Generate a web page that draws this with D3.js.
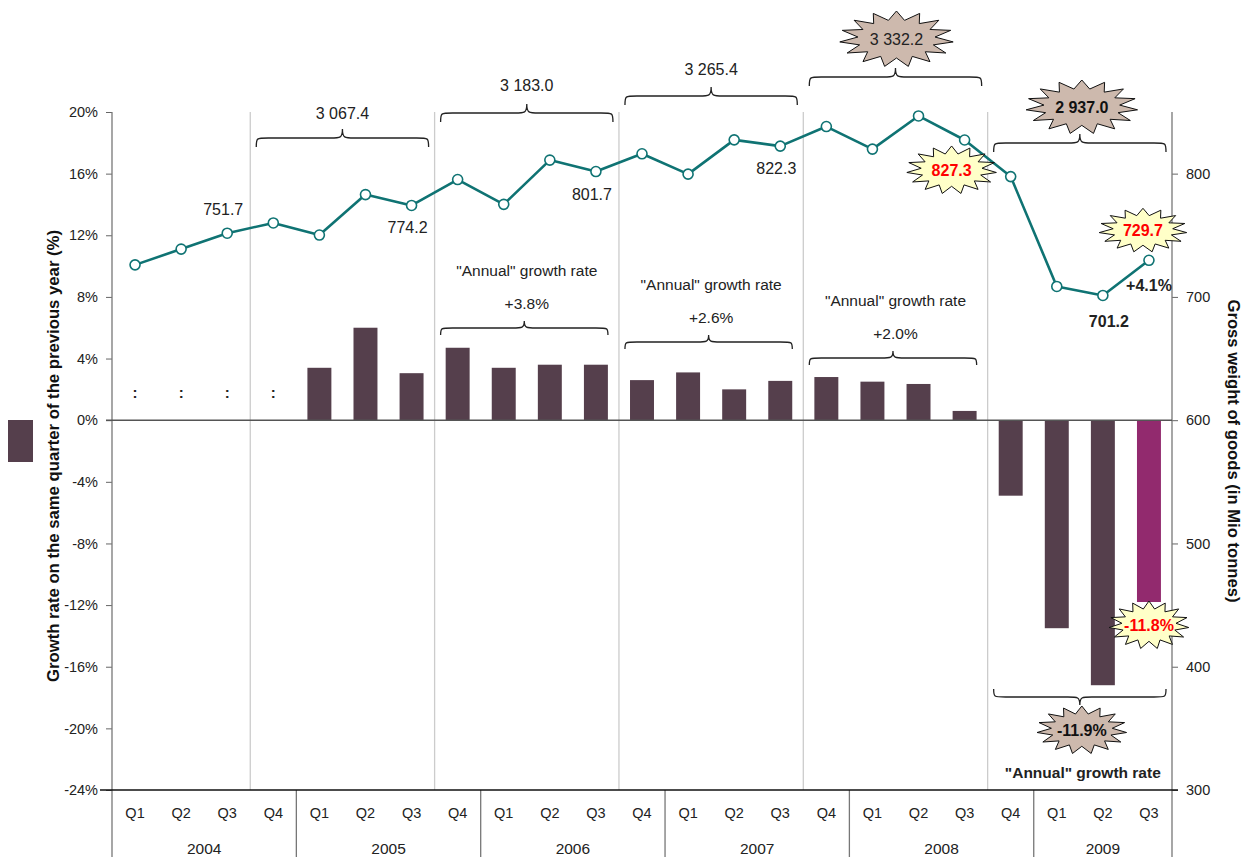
<!DOCTYPE html>
<html>
<head>
<meta charset="utf-8">
<script src="https://cdn.jsdelivr.net/npm/d3@7"></script>
<style>
  html, body { margin: 0; padding: 0; background: #fff; }
  svg { display: block; font-family: "Liberation Sans", Arial, sans-serif; }
</style>
</head>
<body>
<svg id="chart" width="1245" height="857"></svg>
<script>
// ---------------- DATA ----------------
const categories = [
  "2004 Q1","2004 Q2","2004 Q3","2004 Q4",
  "2005 Q1","2005 Q2","2005 Q3","2005 Q4",
  "2006 Q1","2006 Q2","2006 Q3","2006 Q4",
  "2007 Q1","2007 Q2","2007 Q3","2007 Q4",
  "2008 Q1","2008 Q2","2008 Q3","2008 Q4",
  "2009 Q1","2009 Q2","2009 Q3"
];
const quarterLabels = categories.map(c => c.split(" ")[1]);
const years = ["2004","2005","2006","2007","2008","2009"];
// growth rate on same quarter of previous year (%), null = not available (":")
const growthRate = [null,null,null,null,
  3.4,6.0,3.05,4.7,
  3.4,3.6,3.6,2.6,
  3.1,2.0,2.55,2.8,
  2.5,2.35,0.6,-4.9,
  -13.5,-17.2,-11.8];
// gross weight of goods (Mio tonnes)
const grossWeight = [726.0,738.8,751.7,760.0,
  750.2,783.0,774.2,795.2,
  775.1,811.0,801.7,816.1,
  799.6,827.4,822.3,838.2,
  819.9,846.8,827.3,797.6,
  708.5,701.2,729.7];
const annualTotals = ["3 067.4","3 183.0","3 265.4","3 332.2","2 937.0"];
const annualGrowth = ["+3.8%","+2.6%","+2.0%","-11.9%"];
const leftTicks = [-24,-20,-16,-12,-8,-4,0,4,8,12,16,20];
const rightTicks = [300,400,500,600,700,800];
const pointLabels = [
  {i:2, text:"751.7"},{i:6, text:"774.2"},{i:10, text:"801.7"},{i:14, text:"822.3"}
];

// ---------------- SETUP ----------------
const svg = d3.select("#chart");
const FONT = '"Liberation Sans", Arial, sans-serif';
const L = 112, R = 1172, T = 112, B = 790;
const barColor = "#553f4c", lastBarColor = "#922a6e", lineColor = "#0f7373";

const x = d3.scaleBand().domain(categories).range([L, R]);
const bw = x.bandwidth();
const xc = i => x(categories[i]) + bw / 2;
const yL = d3.scaleLinear().domain([-24, 20]).range([B, T]);
const yR = d3.scaleLinear().domain([300, 850]).range([B, T]);

// gray period separators (between Q3 and Q4)
const periodStarts = [3,7,11,15,19];
svg.append("g").selectAll("line").data(periodStarts).join("line")
  .attr("x1", d => x(categories[d])).attr("x2", d => x(categories[d]))
  .attr("y1", T).attr("y2", B)
  .attr("stroke", "#cccccc").attr("stroke-width", 1.3);

// ---------------- AXES ----------------
const gL = svg.append("g").attr("transform", `translate(${L},0)`)
  .call(d3.axisLeft(yL).tickValues(leftTicks).tickFormat(d => d + "%").tickSize(6).tickSizeOuter(0));
gL.select(".domain").remove();
gL.selectAll(".tick line").attr("stroke", "#666");
gL.selectAll(".tick text").attr("font-size", 14.5).attr("font-family", FONT).attr("fill", "#222").attr("x", -14);

const gR = svg.append("g").attr("transform", `translate(${R},0)`)
  .call(d3.axisRight(yR).tickValues(rightTicks).tickSize(6).tickSizeOuter(0));
gR.select(".domain").remove();
gR.selectAll(".tick line").attr("stroke", "#666");
gR.selectAll(".tick text").attr("font-size", 14.5).attr("font-family", FONT).attr("fill", "#222").attr("x", 14);

// vertical axis lines (extend down as table borders)
svg.append("line").attr("x1", L).attr("x2", L).attr("y1", T).attr("y2", 857).attr("stroke", "#777").attr("stroke-width", 1.3);
svg.append("line").attr("x1", R).attr("x2", R).attr("y1", T).attr("y2", 857).attr("stroke", "#777").attr("stroke-width", 1.3);

// bottom category axis
const gB = svg.append("g").attr("transform", `translate(0,${B})`)
  .call(d3.axisBottom(x).tickSize(0).tickFormat((d, i) => quarterLabels[i]));
gB.select(".domain").remove();
gB.selectAll(".tick text").attr("font-size", 14.5).attr("font-family", FONT).attr("fill", "#222").attr("dy", 0).attr("y", 28);

// year separators & labels
const yearIdx = years.map(yv => categories.map((c,i)=>c.startsWith(yv)?i:-1).filter(i=>i>=0));
svg.append("g").selectAll("line").data(yearIdx.slice(1)).join("line")
  .attr("x1", d => x(categories[d[0]])).attr("x2", d => x(categories[d[0]]))
  .attr("y1", B).attr("y2", 857).attr("stroke", "#777").attr("stroke-width", 1.3);
svg.append("g").selectAll("text").data(yearIdx).join("text")
  .attr("x", d => (x(categories[d[0]]) + x(categories[d[d.length-1]]) + bw) / 2)
  .attr("y", 854).attr("text-anchor", "middle")
  .attr("font-size", 15.5).attr("fill", "#222").text((d, i) => years[i]);

// ---------------- BARS ----------------
const barW = bw * 0.52;
const barData = growthRate.map((v, i) => ({v, i})).filter(d => d.v !== null);
svg.append("g").selectAll("rect").data(barData).join("rect")
  .attr("x", d => xc(d.i) - barW / 2)
  .attr("width", barW)
  .attr("y", d => yL(Math.max(0, d.v)))
  .attr("height", d => Math.abs(yL(d.v) - yL(0)))
  .attr("fill", d => d.i === categories.length - 1 ? lastBarColor : barColor);

// ":" for missing
svg.append("g").selectAll("text").data(growthRate.map((v,i)=>({v,i})).filter(d => d.v === null)).join("text")
  .attr("x", d => xc(d.i)).attr("y", yL(0) - 22).attr("text-anchor", "middle")
  .attr("font-size", 15).attr("font-weight", "bold").attr("fill", "#222").text(":");

// zero line & bottom line
svg.append("line").attr("x1", L - 6).attr("x2", R).attr("y1", yL(0)).attr("y2", yL(0)).attr("stroke", "#555").attr("stroke-width", 1.5);
svg.append("line").attr("x1", L - 12).attr("x2", R + 6).attr("y1", B).attr("y2", B).attr("stroke", "#111").attr("stroke-width", 1.5);

// ---------------- LINE ----------------
const line = d3.line().x((d, i) => xc(i)).y(d => yR(d));
svg.append("path").datum(grossWeight).attr("d", line)
  .attr("fill", "none").attr("stroke", lineColor).attr("stroke-width", 2.6).attr("stroke-linejoin", "round");
svg.append("g").selectAll("circle").data(grossWeight).join("circle")
  .attr("cx", (d, i) => xc(i)).attr("cy", d => yR(d)).attr("r", 5)
  .attr("fill", "#fff").attr("stroke", lineColor).attr("stroke-width", 1.6);

// point labels
svg.append("g").selectAll("text").data(pointLabels).join("text")
  .attr("x", d => xc(d.i) - 4)
  .attr("y", (d, k) => yR(grossWeight[d.i]) + (k === 0 ? -18 : 28))
  .attr("text-anchor", "middle").attr("font-size", 16).attr("fill", "#222").text(d => d.text);

const last = categories.length - 1;
svg.append("text").attr("x", xc(last - 1) + 6).attr("y", yR(grossWeight[last - 1]) + 32)
  .attr("text-anchor", "middle").attr("font-size", 16).attr("font-weight", "bold").attr("fill", "#222")
  .text(grossWeight[last - 1].toFixed(1));
svg.append("text").attr("x", xc(last)).attr("y", yR(grossWeight[last]) + 31)
  .attr("text-anchor", "middle").attr("font-size", 16).attr("font-weight", "bold").attr("fill", "#222")
  .text("+" + ((grossWeight[last] / grossWeight[last - 1] - 1) * 100).toFixed(1) + "%");

// ---------------- BRACES ----------------
function bracePath(x1, x2, y, h, dir) {
  // dir = -1 : tip up, ends down ; dir = 1 : tip down, ends up
  const xm = (x1 + x2) / 2, q = 12, e = y - dir * h, t = y + dir * h;
  return `M${x1},${e} C${x1},${y} ${x1},${y} ${x1 + q},${y} L${xm - q},${y} ` +
         `C${xm - 2},${y} ${xm},${y} ${xm},${t} C${xm},${y} ${xm + 2},${y} ${xm + q},${y} ` +
         `L${x2 - q},${y} C${x2},${y} ${x2},${y} ${x2},${e}`;
}
function periodX(p) {
  const s = periodStarts[p];
  return [x(categories[s]) + 6, x(categories[Math.min(s + 3, last)]) + bw - (s + 3 > last ? 4 : 6)];
}
const gBr = svg.append("g").attr("fill", "none").attr("stroke", "#222").attr("stroke-width", 1.3);

// top braces over line
const topBraceY = [138, 113, 96, 77, 143];
const topLabelY = [119, 91, 75];
annualTotals.forEach((t, p) => {
  const [a, b] = periodX(p);
  gBr.append("path").attr("d", bracePath(a, b, topBraceY[p], 9, -1));
  if (p < 3) {
    svg.append("text").attr("x", (a + b) / 2).attr("y", topLabelY[p]).attr("text-anchor", "middle")
      .attr("font-size", 16).attr("fill", "#222").text(t);
  }
});

// bar braces
const barBraceY = [328, 342, 358];
annualGrowth.slice(0, 3).forEach((g, k) => {
  const [a, b] = periodX(k + 1);
  const by = barBraceY[k];
  gBr.append("path").attr("d", bracePath(a, b - 5, by, 7, -1));
  svg.append("text").attr("x", (a + b) / 2).attr("y", by - 19).attr("text-anchor", "middle")
    .attr("font-size", 15.5).attr("fill", "#222").text(g);
  svg.append("text").attr("x", (a + b) / 2).attr("y", by - 52).attr("text-anchor", "middle")
    .attr("font-size", 15.5).attr("fill", "#222").text('"Annual" growth rate');
});
// last period bar brace (below bars)
{
  const [a, b] = periodX(4);
  gBr.append("path").attr("d", bracePath(a, b, 697, 8, 1));
  svg.append("text").attr("x", (a + b) / 2 + 3).attr("y", 778).attr("text-anchor", "middle")
    .attr("font-size", 15.5).attr("font-weight", "bold").attr("fill", "#222").text('"Annual" growth rate');
}

// ---------------- STARBURSTS ----------------
function starburst(cx, cy, rx, ry, fill, text, color, bold, fs) {
  const n = 15, pts = [];
  for (let i = 0; i < 2 * n; i++) {
    const ang = (i * Math.PI) / n - Math.PI / 2;
    const r = i % 2 === 0 ? 1 : 0.68;
    pts.push([cx + Math.cos(ang) * rx * r, cy + Math.sin(ang) * ry * r]);
  }
  svg.append("path").attr("d", d3.line().curve(d3.curveLinearClosed)(pts))
    .attr("fill", fill).attr("stroke", "#111").attr("stroke-width", 1);
  svg.append("text").attr("x", cx).attr("y", cy + fs * 0.36).attr("text-anchor", "middle")
    .attr("font-size", fs).attr("font-weight", bold ? "bold" : "normal").attr("fill", color).text(text);
}
const beige = "#cdb9ad", yellow = "#ffffc8";
{
  const [a, b] = periodX(3);
  starburst((a + b) / 2 + 1, 39, 57, 28, beige, annualTotals[3], "#222", false, 16);
}
{
  const [a, b] = periodX(4);
  starburst((a + b) / 2 + 2, 107, 56, 27, beige, annualTotals[4], "#111", true, 16);
  starburst((a + b) / 2 + 2, 730, 45, 24, beige, annualGrowth[3], "#111", true, 16);
}
starburst(xc(18) - 13, yR(grossWeight[18]) + 30, 45, 24, yellow, grossWeight[18].toFixed(1), "#ff0000", true, 16);
starburst(xc(last) - 6, yR(grossWeight[last]) - 30, 44, 22, yellow, grossWeight[last].toFixed(1), "#ff0000", true, 16);
starburst(xc(last), yL(growthRate[last]) + 23, 40, 24, yellow, growthRate[last].toFixed(1) + "%", "#ff0000", true, 16);

// ---------------- TITLES & LEGEND ----------------
svg.append("text").attr("transform", `translate(59,${(T + B) / 2 + 5}) rotate(-90)`)
  .attr("text-anchor", "middle").attr("font-size", 16).attr("font-weight", "bold").attr("fill", "#111")
  .attr("textLength", 452).attr("lengthAdjust", "spacingAndGlyphs")
  .text("Growth rate on the same quarter of the previous year (%)");
svg.append("text").attr("transform", `translate(1228,${(T + B) / 2}) rotate(90)`)
  .attr("text-anchor", "middle").attr("font-size", 16).attr("font-weight", "bold").attr("fill", "#111")
  .attr("textLength", 303).attr("lengthAdjust", "spacingAndGlyphs")
  .text("Gross weight of goods (in Mio tonnes)");
svg.append("rect").attr("x", 8).attr("y", 420).attr("width", 25).attr("height", 42).attr("fill", barColor);
</script>
</body>
</html>
